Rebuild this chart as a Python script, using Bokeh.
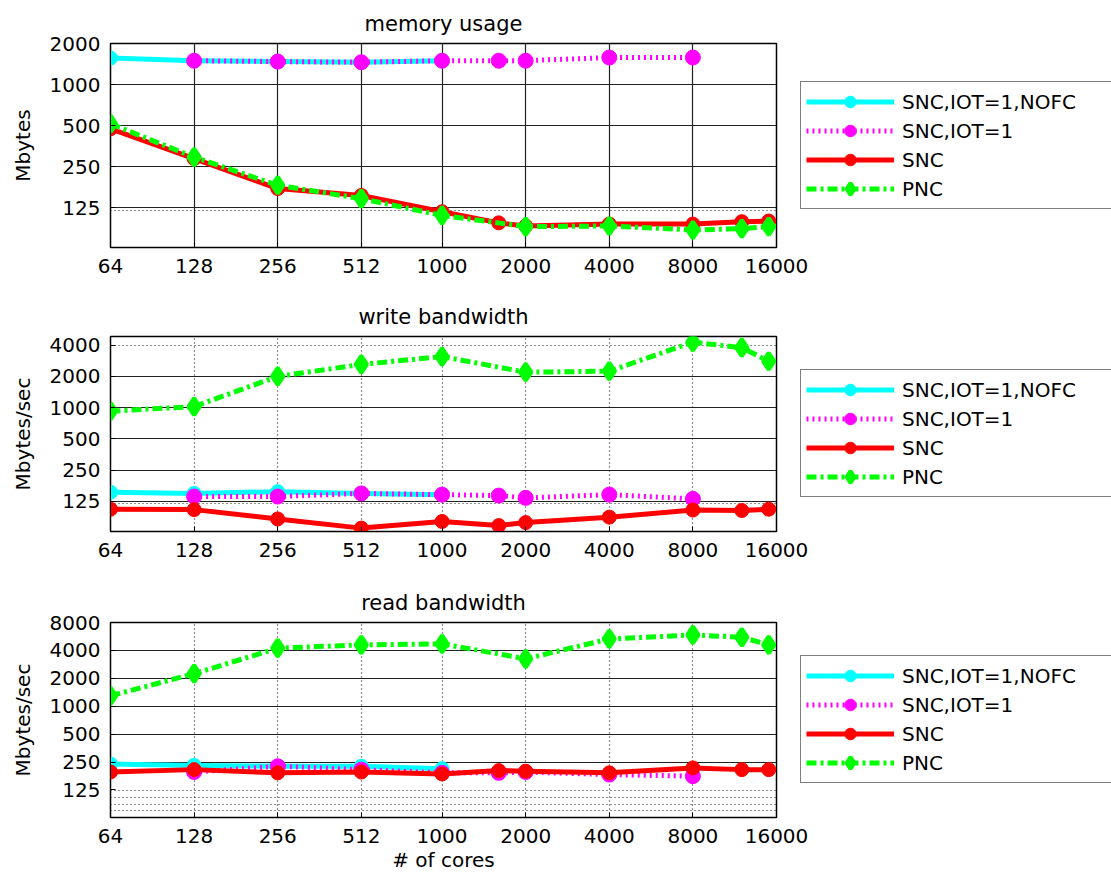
from bokeh.plotting import figure
from bokeh.models import Range1d, FixedTicker, PrintfTickFormatter, Legend, LegendItem
from bokeh.layouts import column
from bokeh.embed import file_html
from bokeh.resources import INLINE

FONT = "DejaVu Sans"

# ---- data ----
x_ticks = [64, 128, 256, 512, 1000, 2000, 4000, 8000, 16000]
x_nofc = [64, 128, 256, 512, 1000]
x_iot = [128, 256, 512, 1000, 1600, 2000, 4000, 8000]
x_snc = [64, 128, 256, 512, 1000, 1600, 2000, 4000, 8000, 12000, 15000]
x_pnc = [64, 128, 256, 512, 1000, 2000, 4000, 8000, 12000, 15000]

labels = ["SNC,IOT=1,NOFC", "SNC,IOT=1", "SNC", "PNC"]

mem_nofc = [1565, 1497, 1475, 1460, 1497]
mem_iot = [1497, 1475, 1460, 1497, 1497, 1497, 1580, 1580]
mem_snc = [475, 287, 173, 154, 117, 97, 92, 95, 95, 99, 100]
mem_pnc = [516, 294, 183, 146, 110, 91, 92, 86, 88, 91]

write_nofc = [153, 149, 155, 149, 145]
write_iot = [139, 139, 149, 145, 142, 135, 145, 132]
write_snc = [105, 104, 84.5, 69, 80, 73, 78, 88, 103, 102, 105]
write_pnc = [924, 1025, 2000, 2610, 3110, 2195, 2245, 4280, 3780, 2800]

read_nofc = [238, 230, 225, 225, 212]
read_iot = [195, 225, 207, 191, 191, 195, 183, 176]
read_snc = [195, 207, 191, 195, 186, 202, 199, 191, 216, 207, 207]
read_pnc = [1296, 2245, 4230, 4600, 4710, 3250, 5320, 5880, 5550, 4600]

mem_yticks = [125, 250, 500, 1000, 2000]
write_yticks = [125, 250, 500, 1000, 2000, 4000]
read_yticks = [125, 250, 500, 1000, 2000, 4000, 8000]

CYAN = "#00ffff"
MAGENTA = "#ff00ff"
RED = "#ff0000"
GREEN = "#00ff00"


def make_panel(title, ylabel, yr, yticks, ygrid_major, ygrid_minor, xgrid_dash,
               data, b_top, frame_h, b_bottom, legend_vy, xlabel=None):
    p = figure(x_axis_type="log", y_axis_type="log",
               x_range=Range1d(64, 16000), y_range=Range1d(*yr),
               frame_width=666, frame_height=frame_h,
               min_border_left=110, min_border_right=335,
               min_border_top=b_top, min_border_bottom=b_bottom,
               output_backend="svg", toolbar_location=None, title=title)
    p.background_fill_color = "white"
    p.border_fill_color = "white"
    p.outline_line_color = "black"
    p.outline_line_width = 1.5

    p.title.align = "center"
    p.title.text_font = FONT
    p.title.text_font_size = "21px"
    p.title.text_font_style = "normal"
    p.title.text_color = "black"
    p.title.standoff = 16

    # grids
    p.xgrid.ticker = FixedTicker(ticks=x_ticks[1:-1])
    p.xgrid.grid_line_color = "#222222"
    p.xgrid.grid_line_width = 1.2
    p.xgrid.grid_line_dash = xgrid_dash
    p.ygrid.ticker = FixedTicker(ticks=ygrid_major, minor_ticks=ygrid_minor)
    p.ygrid.grid_line_color = "#222222"
    p.ygrid.grid_line_width = 1.2
    p.ygrid.minor_grid_line_color = "#222222"
    p.ygrid.minor_grid_line_dash = "1 3"
    p.ygrid.minor_grid_line_width = 1

    # axes
    p.xaxis.ticker = FixedTicker(ticks=x_ticks)
    p.yaxis.ticker = FixedTicker(ticks=yticks)
    p.xaxis.formatter = PrintfTickFormatter(format="%d")
    p.yaxis.formatter = PrintfTickFormatter(format="%d")
    for ax in (p.xaxis[0], p.yaxis[0]):
        ax.axis_line_color = "black"
        ax.major_tick_in = 5
        ax.major_tick_out = 0
        ax.major_tick_line_color = "black"
        ax.minor_tick_line_color = None
        ax.major_label_text_font = FONT
        ax.major_label_text_font_size = "20px"
        ax.major_label_text_color = "black"
        ax.axis_label_text_font = FONT
        ax.axis_label_text_font_size = "20px"
        ax.axis_label_text_font_style = "normal"
        ax.axis_label_text_color = "black"
    p.yaxis.major_label_standoff = 10
    p.xaxis.major_label_standoff = 11
    p.yaxis.axis_label = ylabel
    p.yaxis.axis_label_standoff = 12
    if xlabel:
        p.xaxis.axis_label = xlabel
        p.xaxis.axis_label_standoff = 2

    y_nofc, y_iot, y_snc, y_pnc = data

    l1 = p.line(x_nofc, y_nofc, line_color=CYAN, line_width=5, line_join="round")
    m1 = p.scatter(x_nofc, y_nofc, marker="circle", size=14, fill_color=CYAN, line_color=CYAN)
    l2 = p.line(x_iot, y_iot, line_color=MAGENTA, line_width=5, line_dash="2 4")
    m2 = p.scatter(x_iot, y_iot, marker="circle", size=15, fill_color=MAGENTA, line_color=MAGENTA)
    l3 = p.line(x_snc, y_snc, line_color=RED, line_width=5, line_join="round")
    m3 = p.scatter(x_snc, y_snc, marker="circle", size=14, fill_color=RED, line_color=RED)
    l4 = p.line(x_pnc, y_pnc, line_color=GREEN, line_width=5, line_dash="10 4 3 4")
    m4 = p.scatter(x_pnc, y_pnc, marker="diamond", size=17, fill_color=GREEN,
                   line_color=GREEN, line_width=4)

    legend = Legend(items=[
        LegendItem(label=labels[0], renderers=[l1, m1]),
        LegendItem(label=labels[1], renderers=[l2, m2]),
        LegendItem(label=labels[2], renderers=[l3, m3]),
        LegendItem(label=labels[3], renderers=[l4, m4]),
    ], location=(24, legend_vy))
    legend.padding = 5
    legend.spacing = 0
    legend.margin = 0
    legend.glyph_width = 88
    legend.glyph_height = 29
    legend.label_height = 29
    legend.label_width = 204
    legend.label_standoff = 8
    legend.label_text_font = FONT
    legend.label_text_font_size = "20px"
    legend.label_text_color = "black"
    legend.border_line_color = "black"
    legend.border_line_width = 1.2
    legend.background_fill_color = "white"
    legend.background_fill_alpha = 1
    p.add_layout(legend, "right")
    return p


p1 = make_panel("memory usage", "Mbytes", (64, 2002), mem_yticks,
                [125, 250, 500, 1000], [120], "solid",
                (mem_nofc, mem_iot, mem_snc, mem_pnc), 43, 204, 43, 38)
p2 = make_panel("write bandwidth", "Mbytes/sec", (64, 4850), write_yticks,
                [125, 250, 500, 1000, 2000], [120, 4000], "1 3",
                (write_nofc, write_iot, write_snc, write_pnc), 46, 195, 49, 34)
p3 = make_panel("read bandwidth", "Mbytes/sec", (63, 8010), read_yticks,
                [250, 500, 1000, 2000, 4000], [123, 103, 87, 75], "1 3",
                (read_nofc, read_iot, read_snc, read_pnc), 42, 195, 65, 34,
                xlabel="# of cores")

layout = column(p1, p2, p3, spacing=0)
open("out.html", "w").write(file_html(layout, INLINE))
